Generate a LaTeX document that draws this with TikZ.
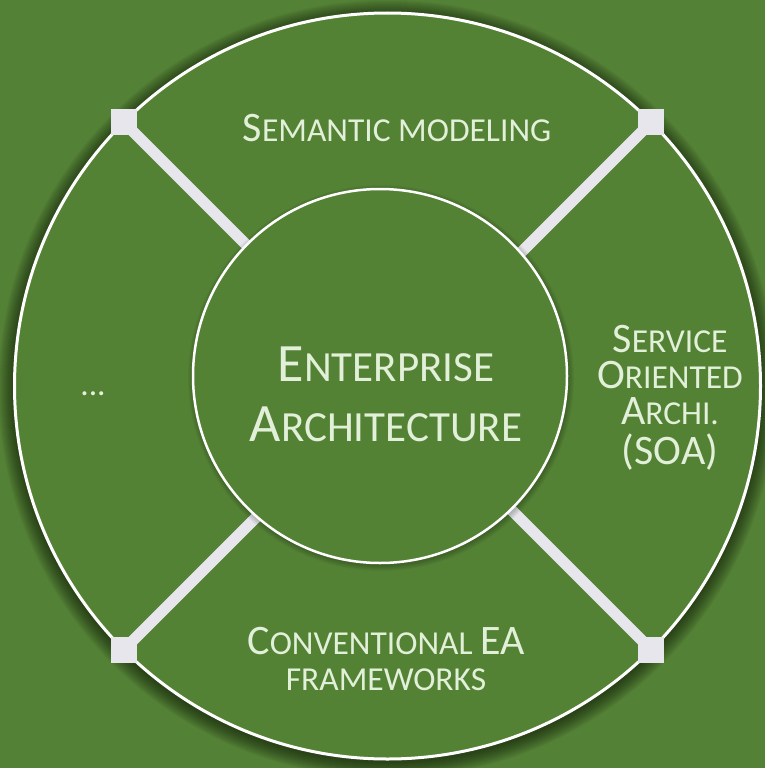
\documentclass[tikz,border=0pt]{standalone}
\usepackage{fontspec}
\setmainfont{Carlito}
\usetikzlibrary{positioning}
\definecolor{eagreen}{HTML}{548235}
\definecolor{eabg}{HTML}{538135}
\definecolor{eatext}{HTML}{E2F0D9}
\definecolor{easpoke}{HTML}{E7E6EC}
\newcommand{\lblcap}{\fontsize{42}{36}\selectfont}
\newcommand{\lblsc}{\fontsize{33.5}{36}\selectfont}
\newcommand{\hubcap}{\fontsize{54}{60}\selectfont}
\newcommand{\hubsc}{\fontsize{43}{60}\selectfont}
\tikzset{
  ring/.style={circle, draw=white, line width=3pt, fill=eagreen,
    inner sep=0pt, outer sep=0pt},
  hub/.style={circle, draw=white, line width=2.5pt, fill=eagreen,
    inner sep=0pt, outer sep=0pt},
  spoke/.style={draw=easpoke, line width=11pt},
  corner/.style={rectangle, fill=easpoke, minimum size=26pt, inner sep=0pt},
  segtext/.style={text=eatext, align=center, inner sep=0pt, font=\lblsc},
  hubtext/.style={text=eatext, align=center, inner sep=0pt, font=\hubsc}
}

\begin{document}
\begin{tikzpicture}[x=1pt, y=-1pt]
    \fill[eabg] (0,0) rectangle (765,768);
    \useasboundingbox (0,0) rectangle (765,768);

    % soft shadow round the ring
    \foreach \s in {1,...,16}
        \fill[black, opacity=0.035] (387.5,389) circle[radius=373pt+\s pt];
    \node[ring, minimum size=746pt] (ring) at (387.5,386) {};

    \foreach \a/\n in {45/ne, 135/nw, 225/sw, 315/se}
        \node[corner] (c\n) at (ring.\a) {};
    \draw[spoke] (cnw.center) -- (ring.center);
    \draw[spoke] (cne.center) -- (ring.center);
    \draw[spoke] (csw.center) -- (ring.center);
    \draw[spoke] (cse.center) -- (ring.center);

    % hub
    \foreach \s in {1,...,6}
        \fill[black, opacity=0.04] (381,378) circle[radius=187pt+\s pt];
    \node[hub, minimum size=374pt] (hub) at (380,376) {};

    \node[hubtext] (ea) at (386,394) {{\hubcap E}NTERPRISE\\{\hubcap A}RCHITECTURE};
    \node[segtext] (sem) at (397,128) {{\lblcap S}EMANTIC MODELING};
    \node[segtext] (soa) at (670,398) {{\lblcap S}ERVICE\\{\lblcap O}RIENTED\\{\lblcap A}RCHI.\\[4pt]{\lblcap (SOA)}};
    \node[segtext] (more) at (93,394) {...};
    \node[segtext] (conv) at (386,659) {{\lblcap C}ONVENTIONAL {\lblcap EA}\\FRAMEWORKS};
\end{tikzpicture}
\end{document}
